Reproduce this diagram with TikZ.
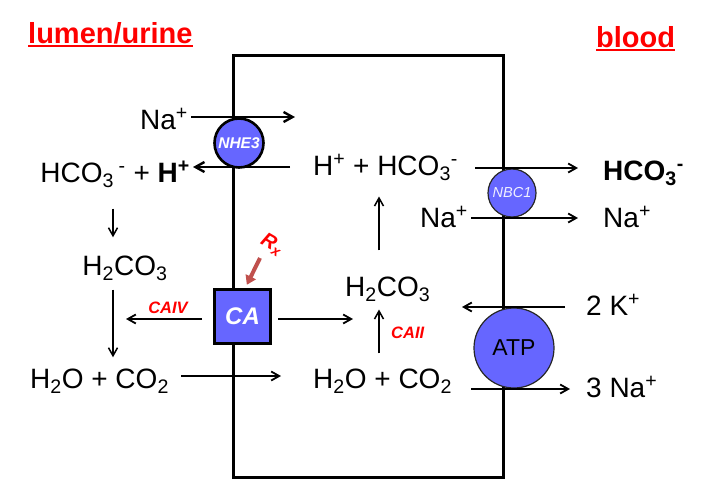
\documentclass[tikz,border=0pt]{standalone}
\usepackage{fontspec}
\setmainfont{Liberation Sans}
\usetikzlibrary{arrows.meta}
\definecolor{pumpblue}{RGB}{102,102,255}
\definecolor{rxred}{RGB}{192,80,77}
\newcommand\redul[1]{\setbox0\hbox{#1}\rlap{\rule[-4pt]{\wd0}{2pt}}\box0}

\begin{document}
\begin{tikzpicture}[x=1pt,y=-1pt,
    every node/.style={font=\fontsize{28}{32}\selectfont, inner sep=3pt},
    side/.style={font=\fontsize{29}{32}\selectfont\bfseries, text=red, anchor=base west},
    flux/.style={line width=2.4pt, -{Straight Barb[length=9pt,width=10pt]}},
    react/.style={line width=1.8pt, -{Straight Barb[length=8pt,width=9pt]}},
    pump/.style={circle, fill=pumpblue, draw, inner sep=0pt},
    enzlabel/.style={font=\fontsize{16.5}{18}\selectfont\bfseries\itshape, text=red}]
    \useasboundingbox (0,0) rectangle (706,488);

    % cell
    \draw[line width=3pt] (233,55) rectangle (503,477);

    \node[side] (lumen) at (25,43) {\redul{lumen/urine}};
    \node[side] (blood) at (593,47) {\redul{blood}};

    % species
    \node[anchor=base east] (naL) at (191,129) {Na\textsuperscript{+}};
    \node[anchor=base east] (lhs) at (193,182) {HCO\textsubscript{3}\,\textsuperscript{-} + \textbf{H\textsuperscript{+}}};
    \node[anchor=base west] (rhs) at (310,175) {H\textsuperscript{+} + HCO\textsubscript{3}\textsuperscript{-}};
    \node[anchor=base west] (hco) at (600,180) {\textbf{HCO\textsubscript{3}\textsuperscript{-}}};
    \node[anchor=base east] (naM) at (471,227) {Na\textsuperscript{+}};
    \node[anchor=base west] (naR) at (600,227) {Na\textsuperscript{+}};
    \node[anchor=base] (acidL) at (125,275) {H\textsubscript{2}CO\textsubscript{3}};
    \node[anchor=base west] (waterL) at (27,388) {H\textsubscript{2}O + CO\textsubscript{2}};
    \node[anchor=base west] (acidR) at (342,296) {H\textsubscript{2}CO\textsubscript{3}};
    \node[anchor=base west] (waterR) at (310,388) {H\textsubscript{2}O + CO\textsubscript{2}};
    \node[anchor=base west] (kplus) at (583,315) {2 K\textsuperscript{+}};
    \node[anchor=base west] (naplus) at (583,397) {3 Na\textsuperscript{+}};

    % transporters and enzyme
    \node[pump, line width=2.6pt, minimum size=49pt, text=white,
          font=\fontsize{15.5}{16}\selectfont\bfseries\itshape] (nhe) at (239,143) {NHE3};
    \node[pump, line width=1.2pt, draw=black!85, minimum size=48pt, text=white!90!pumpblue,
          font=\fontsize{14.5}{15}\selectfont\itshape] (nbc) at (512,193) {NBC1};
    \node[pump, line width=1.2pt, draw=black!85, minimum size=80pt,
          font=\fontsize{23}{24}\selectfont] (atp) at (514,348) {ATP};
    \node[fill=pumpblue, draw, line width=3pt, minimum width=56pt, minimum height=54pt, text=white,
          font=\fontsize{24}{24}\selectfont\bfseries\itshape] (ca) at (242.5,316) {CA};

    \node[enzlabel, anchor=base] (caiv) at (168,313) {CAIV};
    \node[enzlabel, anchor=base west] (caii) at (388,338) {CAII};
    \node[text=red, font=\fontsize{20}{20}\selectfont\bfseries\itshape, rotate=-30, inner sep=0pt] (rx) at (272,245) {R\textsubscript{x}};

    % free ends and rows
    \coordinate (naIn) at (295,117);
    \coordinate (hOut) at (290,167);
    \coordinate (rowA) at (0,168);
    \coordinate (rowB) at (0,218);
    \coordinate (colL) at (113,0);
    \coordinate (colR) at (379,0);
    \coordinate (caivEnd) at (126,319);
    \coordinate (caEnd) at (353,319);
    \coordinate (rowW) at (0,376);
    \coordinate (kIn) at (462,307);
    \coordinate (rowN) at (0,389);
    \coordinate (rxTail) at (260,258);

    % fluxes across the membranes
    \draw[flux] (naL.east |- naIn) -- (naIn);
    \draw[flux] (hOut) -- (lhs.east |- hOut);
    \draw[react, shorten <=14pt, shorten >=22pt] (rhs.east |- rowA) -- (hco.west |- rowA);
    \draw[react, shorten >=22pt] (naM.east |- rowB) -- (naR.west |- rowB);
    \draw[react, shorten <=18pt] (kplus.west |- kIn) -- (kIn);
    \draw[react, shorten <=16pt, shorten >=13pt] (waterR.east |- rowN) -- (naplus.west |- rowN);

    % reactions
    \draw[react, line width=1.5pt, shorten <=18pt, shorten >=15pt] (lhs.south -| colL) -- (acidL.north -| colL);
    \draw[react, line width=1.5pt, shorten <=6pt, shorten >=8pt] (acidL.south -| colL) -- (waterL.north -| colL);
    \draw[react, line width=1.5pt, shorten <=23pt, shorten >=13pt] (acidR.north -| colR) -- (rhs.south -| colR);
    \draw[react, line width=1.5pt, shorten <=12pt, shorten >=5pt] (waterR.north -| colR) -- (acidR.south -| colR);
    \draw[react, shorten <=11pt] (ca.west |- caivEnd) -- (caivEnd);
    \draw[react, shorten <=6pt] (ca.east |- caEnd) -- (caEnd);
    \draw[react, shorten <=9pt, shorten >=29pt] (waterL.east |- rowW) -- (waterR.west |- rowW);
    \draw[rxred, line width=4pt, -{Triangle[length=9pt,width=11pt]}, shorten >=3pt] (rxTail) -- ([xshift=3pt]ca.north);
\end{tikzpicture}
\end{document}
